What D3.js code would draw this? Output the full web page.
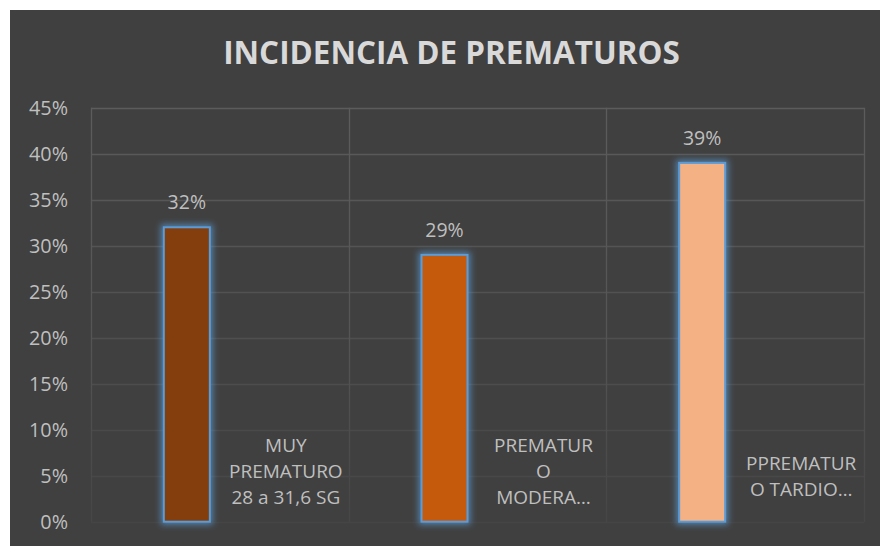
<!DOCTYPE html>
<html>
<head>
<meta charset="utf-8">
<script src="https://cdn.jsdelivr.net/npm/d3@7"></script>
<style>
  html, body { margin: 0; padding: 0; background: #ffffff; }
  svg { display: block; }
</style>
</head>
<body>
<svg id="chart" width="880" height="546"></svg>
<script>
const title = "INCIDENCIA DE PREMATUROS";
const categories = ["MUY PREMATURO 28 a 31,6 SG", "PREMATURO MODERADO", "PPREMATURO TARDIO"];
const categoryLines = [["MUY", "PREMATURO", "28 a 31,6 SG"], ["PREMATUR", "O", "MODERA…"], ["PPREMATUR", "O TARDIO…"]];
const values = [0.32, 0.29, 0.39];
const valueLabels = ["32%", "29%", "39%"];
const barColors = ["#843c0c", "#c55a11", "#f4b183"];
const yTicks = [0, 0.05, 0.10, 0.15, 0.20, 0.25, 0.30, 0.35, 0.40, 0.45];

const svg = d3.select("#chart");
const FONT = "'Open Sans', 'Noto Sans', sans-serif";

// background
svg.append("rect").attr("x", 10).attr("y", 10).attr("width", 870).attr("height", 536).attr("fill", "#404040");

const plot = { left: 91, right: 864, top: 107.7, bottom: 521.7 };
const x = d3.scaleBand().domain(categories).range([plot.left, plot.right]).paddingInner(0).paddingOuter(0);
const y = d3.scaleLinear().domain([0, 0.45]).range([plot.bottom, plot.top]);

const defs = svg.append("defs");
const grad = defs.append("linearGradient").attr("id", "gridGrad")
  .attr("gradientUnits", "userSpaceOnUse").attr("x1", 0).attr("y1", plot.top).attr("x2", 0).attr("y2", plot.bottom);
grad.append("stop").attr("offset", "0%").attr("stop-color", "#5c5c5c");
grad.append("stop").attr("offset", "55%").attr("stop-color", "#555555");
grad.append("stop").attr("offset", "100%").attr("stop-color", "#464646");

const glow = defs.append("filter").attr("id", "glow").attr("x", "-50%").attr("y", "-20%").attr("width", "200%").attr("height", "140%");
glow.append("feMorphology").attr("in", "SourceAlpha").attr("operator", "dilate").attr("radius", 1.5).attr("result", "dil");
glow.append("feGaussianBlur").attr("in", "dil").attr("stdDeviation", 3).attr("result", "blur");
glow.append("feFlood").attr("flood-color", "#5b9bd5").attr("flood-opacity", 0.7);
glow.append("feComposite").attr("in2", "blur").attr("operator", "in").attr("result", "g");
const merge = glow.append("feMerge");
merge.append("feMergeNode").attr("in", "g");
merge.append("feMergeNode").attr("in", "SourceGraphic");

// horizontal gridlines
svg.append("g").selectAll("line").data(yTicks).join("line")
  .attr("x1", plot.left).attr("x2", plot.right)
  .attr("y1", d => Math.round(y(d)) + 0.5).attr("y2", d => Math.round(y(d)) + 0.5)
  .attr("stroke", d => d3.interpolateRgb("#454545", "#5c5c5c")(d / 0.45)).attr("stroke-width", 1.3);

// vertical gridlines at category boundaries
const bounds = categories.map(c => x(c)).concat([plot.right]);
svg.append("g").selectAll("line").data(bounds).join("line")
  .attr("x1", d => Math.round(d) + 0.5).attr("x2", d => Math.round(d) + 0.5)
  .attr("y1", plot.top).attr("y2", plot.bottom)
  .attr("stroke", "url(#gridGrad)").attr("stroke-width", 1.3);

// y axis labels
const yAxis = d3.axisLeft(y).tickValues(yTicks).tickFormat(d3.format(".0%")).tickSize(0).tickPadding(0);
const yg = svg.append("g").attr("transform", `translate(68,0)`).call(yAxis);
yg.select(".domain").remove();
yg.selectAll("text").attr("fill", "#bfbfbf").attr("font-family", FONT).attr("font-size", 19.8).attr("dy", "0.35em");

// bars
const barW = 46;
const barOffset = -33;
const cx = c => x(c) + x.bandwidth() / 2 + barOffset;
svg.append("g").selectAll("rect").data(values).join("rect")
  .attr("x", (d, i) => cx(categories[i]) - barW / 2)
  .attr("y", d => y(d))
  .attr("width", barW)
  .attr("height", d => y(0) - y(d))
  .attr("fill", (d, i) => barColors[i])
  .attr("stroke", "#5b9bd5").attr("stroke-width", 2)
  .attr("filter", "url(#glow)");

// value labels
svg.append("g").selectAll("text").data(values).join("text")
  .attr("x", (d, i) => cx(categories[i]))
  .attr("y", d => y(d) - 18)
  .attr("text-anchor", "middle")
  .attr("fill", "#bfbfbf").attr("font-family", FONT).attr("font-size", 19.5)
  .text((d, i) => valueLabels[i]);

// category labels (inside plot, to the right of each bar)
const labelOffset = 66;
categories.forEach((c, i) => {
  const lines = categoryLines[i];
  const first = 452.3 + (3 - lines.length) * 18;
  const t = svg.append("text")
    .attr("text-anchor", "middle")
    .attr("fill", "#bfbfbf").attr("font-family", FONT).attr("font-size", 19);
  lines.forEach((ln, k) => {
    t.append("tspan").attr("x", x(c) + x.bandwidth() / 2 + labelOffset).attr("y", first + k * 25.8).text(ln);
  });
});

// title
const tt = svg.append("text")
  .attr("x", 451.5).attr("y", 64.3)
  .attr("text-anchor", "middle")
  .attr("fill", "#d9d9d9").attr("font-family", FONT).attr("font-weight", "bold").attr("font-size", 30)
  .text(title);
const w = tt.node().getComputedTextLength();
tt.attr("font-size", 30 * 457 / w);
</script>
</body>
</html>
